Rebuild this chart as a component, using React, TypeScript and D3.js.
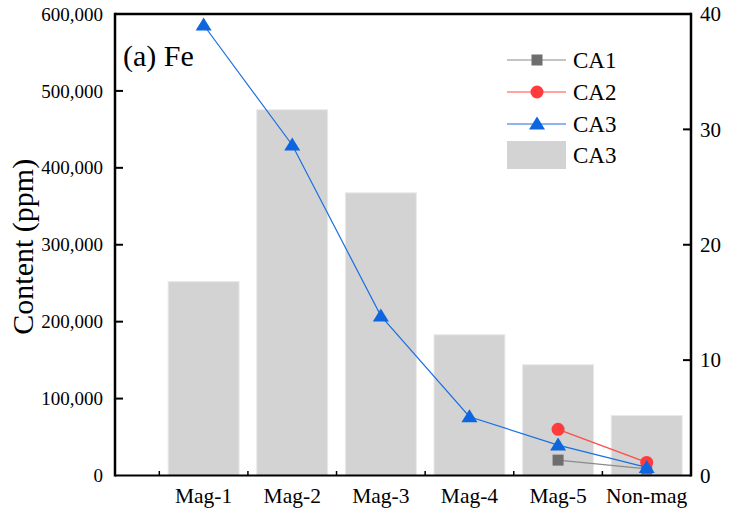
import React from 'react';
import * as d3 from 'd3';

// categories and values
const categories = ['Mag-1', 'Mag-2', 'Mag-3', 'Mag-4', 'Mag-5', 'Non-mag'];
const barValues = [16.8, 31.7, 24.5, 12.2, 9.6, 5.2]; // right axis
const ca1Values = [null, null, null, null, 20000, 8500];
const ca2Values = [null, null, null, null, 60000, 17000];
const ca3Values = [585700, 429700, 207500, 76400, 39500, 10500];
const leftTicks = [0, 100000, 200000, 300000, 400000, 500000, 600000];
const rightTicks = [0, 10, 20, 30, 40];

const W = 731, H = 513;
const margin = { top: 14, right: 40, bottom: 37.5, left: 115 };
const FONT = "'Liberation Serif', 'Times New Roman', Times, 'DejaVu Serif', serif";

const App = () => {
    const x = d3.scaleLinear().domain([0, 6.5]).range([margin.left, W - margin.right]);
    const yL = d3.scaleLinear().domain([0, 600000]).range([H - margin.bottom, margin.top]);
    const yR = d3.scaleLinear().domain([0, 40]).range([H - margin.bottom, margin.top]);
    const fmt = d3.format(',');
    const x0 = x(0), x1 = x(6.5), yb = yL(0), yt = yL(600000);
    const barW = x(0.8) - x(0);

    const series = [
        { name: 'CA1', values: ca1Values, line: '#8a8a8a', fill: '#6e6e6e', shape: 'square' },
        { name: 'CA2', values: ca2Values, line: '#ff4a4a', fill: '#ff3b3b', shape: 'circle' },
        { name: 'CA3', values: ca3Values, line: '#1b6fe3', fill: '#0d66e0', shape: 'triangle' },
    ];

    const line = d3.line<any>()
        .defined(d => d.v != null)
        .x(d => x(d.i + 1))
        .y(d => yL(d.v));

    const marker = (shape: string, cx: number, cy: number, fill: string, key: any) => {
        if (shape === 'square') return <rect key={key} x={cx - 5.5} y={cy - 5.5} width={11} height={11} fill={fill} />;
        if (shape === 'circle') return <circle key={key} cx={cx} cy={cy} r={6.5} fill={fill} />;
        return <path key={key} d={`M${cx},${cy - 7.5}L${cx + 8},${cy + 5.5}L${cx - 8},${cy + 5.5}Z`} fill={fill} />;
    };

    const legendX = 507, legendTextX = 573;
    const legendRows = [60, 92, 124];
    const txt = { fontFamily: FONT };

    return (
        <svg width={W} height={H} style={{ position: 'absolute', left: 0, top: 0 }}>
            <rect width={W} height={H} fill="white" />
            {/* bars */}
            {barValues.map((v, i) => (
                <rect key={i} x={x(i + 1) - barW / 2} y={yR(v)} width={barW} height={yR(0) - yR(v)}
                    fill="#d3d3d3" stroke="#e8e8e8" strokeWidth={1} />
            ))}
            {/* lines */}
            {series.map(s => {
                const pts = s.values.map((v, i) => ({ v, i }));
                return (
                    <g key={s.name}>
                        <path d={line(pts) || ''} fill="none" stroke={s.line} strokeWidth={1.2} />
                        {pts.filter(p => p.v != null).map(p => marker(s.shape, x(p.i + 1), yL(p.v as number), s.fill, p.i))}
                    </g>
                );
            })}
            {/* frame */}
            <line x1={x0} x2={x1} y1={yt} y2={yt} stroke="black" strokeWidth={2.5} />
            <line x1={x0} x2={x1} y1={yb} y2={yb} stroke="black" strokeWidth={2} />
            <line x1={x0} x2={x0} y1={yt - 1.2} y2={yb + 1} stroke="black" strokeWidth={2.5} />
            <line x1={x1} x2={x1} y1={yt - 1.2} y2={yb + 1} stroke="black" strokeWidth={2.5} />
            {/* left axis */}
            {leftTicks.map(t => (
                <g key={t}>
                    {t > 0 && t < 600000 && <line x1={x0} x2={x0 + 8} y1={yL(t)} y2={yL(t)} stroke="black" strokeWidth={2} />}
                    <text style={txt} x={103} y={yL(t)} dy="0.35em" textAnchor="end" fontSize={19}>{fmt(t)}</text>
                </g>
            ))}
            {/* right axis */}
            {rightTicks.map(t => (
                <g key={t}>
                    {t > 0 && t < 40 && <line x1={x1} x2={x1 - 8} y1={yR(t)} y2={yR(t)} stroke="black" strokeWidth={2} />}
                    <text style={txt} x={700} y={yR(t)} dy="0.35em" textAnchor="start" fontSize={21}>{t}</text>
                </g>
            ))}
            {/* bottom axis */}
            {categories.map((c, i) => (
                <g key={c}>
                    <line x1={x(i + 0.5)} x2={x(i + 0.5)} y1={yb} y2={yb - 4.5} stroke="black" strokeWidth={1.5} />
                    <text style={txt} x={x(i + 1)} y={503} textAnchor="middle" fontSize={21.5}>{c}</text>
                </g>
            ))}
            {/* axis title */}
            <text style={txt} transform={`translate(33,${(yt + yb) / 2 + 2}) rotate(-90)`} textAnchor="middle" fontSize={30}>Content (ppm)</text>
            <text style={txt} x={123} y={66} fontSize={30}>(a) Fe</text>
            {/* legend */}
            {series.map((s, k) => (
                <g key={s.name}>
                    <line x1={legendX} x2={legendX + 59} y1={legendRows[k]} y2={legendRows[k]} stroke={s.line} strokeWidth={1.2} />
                    {marker(s.shape, legendX + 30, legendRows[k], s.fill, 'm')}
                    <text style={txt} x={legendTextX} y={legendRows[k]} dy="0.33em" fontSize={23}>{s.name}</text>
                </g>
            ))}
            <rect x={legendX} y={141} width={59} height={28} fill="#d3d3d3" />
            <text style={txt} x={legendTextX} y={155} dy="0.33em" fontSize={23}>CA3</text>
        </svg>
    );
};

export default App;
